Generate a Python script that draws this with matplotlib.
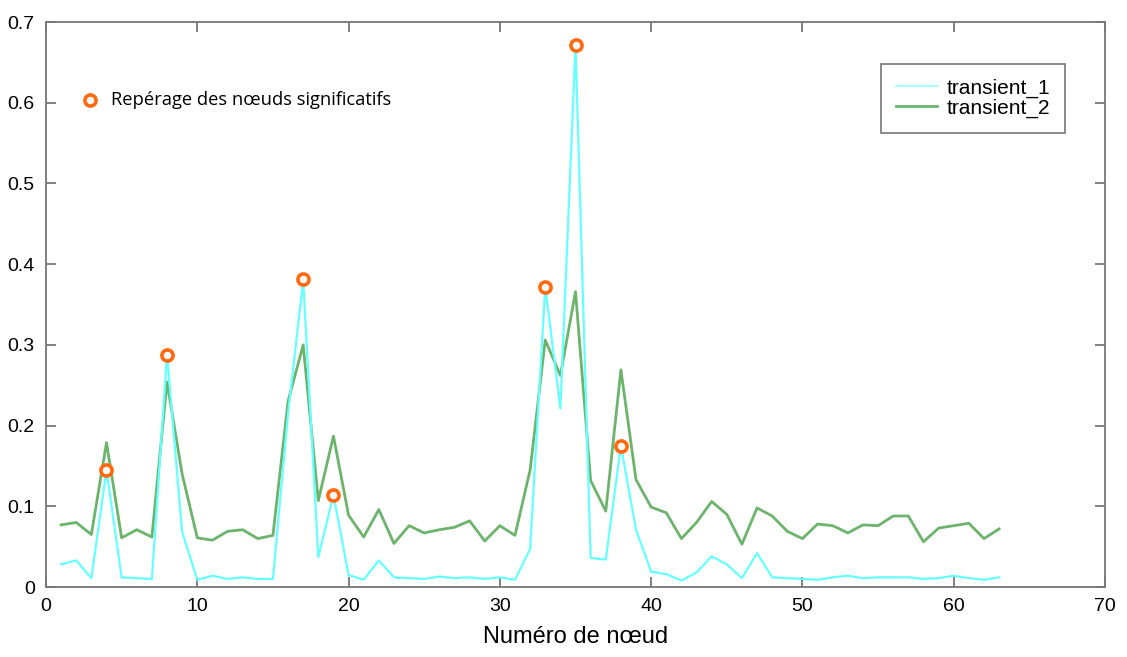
import matplotlib
matplotlib.use("Agg")
import matplotlib.pyplot as plt

nodes = list(range(1, 64))
transient_1 = [0.028, 0.033, 0.011, 0.145, 0.012, 0.011, 0.010, 0.288, 0.068, 0.009,
               0.014, 0.010, 0.012, 0.010, 0.010, 0.215, 0.380, 0.037, 0.114, 0.015,
               0.009, 0.033, 0.012, 0.011, 0.010, 0.013, 0.011, 0.012, 0.010, 0.012,
               0.009, 0.047, 0.372, 0.221, 0.672, 0.036, 0.034, 0.175, 0.071, 0.019,
               0.016, 0.008, 0.018, 0.038, 0.028, 0.011, 0.042, 0.012, 0.011, 0.010,
               0.009, 0.012, 0.014, 0.011, 0.012, 0.012, 0.012, 0.010, 0.011, 0.014,
               0.011, 0.009, 0.012]
transient_2 = [0.077, 0.080, 0.065, 0.179, 0.061, 0.071, 0.062, 0.254, 0.140, 0.061,
               0.058, 0.069, 0.071, 0.060, 0.064, 0.230, 0.300, 0.107, 0.187, 0.089,
               0.062, 0.096, 0.054, 0.076, 0.067, 0.071, 0.074, 0.082, 0.057, 0.076,
               0.064, 0.145, 0.306, 0.262, 0.366, 0.132, 0.094, 0.269, 0.133, 0.099,
               0.092, 0.060, 0.080, 0.106, 0.090, 0.053, 0.098, 0.088, 0.069, 0.060,
               0.078, 0.076, 0.067, 0.077, 0.076, 0.088, 0.088, 0.056, 0.073, 0.076,
               0.079, 0.060, 0.072]
sig_nodes = [4, 8, 17, 19, 33, 35, 38]
sig_values = [0.145, 0.288, 0.381, 0.114, 0.372, 0.672, 0.175]

xlabel = "Numéro de nœud"
annot_text = "Repérage des nœuds significatifs"

fig = plt.figure(figsize=(11.27, 6.57), dpi=100)
ax = fig.add_axes([0.0408, 0.1065, 0.9397, 0.86])

ax.plot(nodes, transient_1, color="#66ffff", lw=1.6, label="transient_1", zorder=3)
ax.plot(nodes, transient_2, color="#6cb46c", lw=2.0, label="transient_2", zorder=2)
ax.plot(sig_nodes, sig_values, linestyle="none", marker="o", ms=8, mfc="white",
        mec="#ff6a10", mew=2.6, zorder=4)

# annotation marker + text
ax.plot([2.9], [0.603], linestyle="none", marker="o", ms=8, mfc="white",
        mec="#ff6a10", mew=2.6, zorder=4)
ax.text(4.3, 0.603, annot_text, fontsize=13.2, family="Open Sans", va="center", ha="left")

ax.set_xlim(0, 70)
ax.set_ylim(0, 0.7)
ax.set_xticks(range(0, 71, 10))
ax.set_yticks([0, 0.1, 0.2, 0.3, 0.4, 0.5, 0.6, 0.7])
ax.set_yticklabels(["0", "0.1", "0.2", "0.3", "0.4", "0.5", "0.6", "0.7"])
ax.tick_params(direction="in", top=True, right=True, length=7, width=1.3,
               color="#777777", labelsize=14, pad=8)
for lbl in ax.get_xticklabels() + ax.get_yticklabels():
    lbl.set_family("Liberation Sans")
for s in ax.spines.values():
    s.set_color("#777777")
    s.set_linewidth(1.3)

ax.set_xlabel(xlabel, fontsize=17, family="Liberation Sans", labelpad=8)

leg = ax.legend(loc="upper right", bbox_to_anchor=(0.962, 0.926), borderaxespad=0,
                fancybox=False, edgecolor="#777777", framealpha=1,
                prop={"family": "Liberation Sans", "size": 15},
                borderpad=0.7, labelspacing=0.05, handlelength=2.0, handletextpad=0.45)
leg.get_frame().set_linewidth(1.2)
leg.get_lines()[0].set_color("#aaffff")

fig.savefig("out.png", dpi=100)
